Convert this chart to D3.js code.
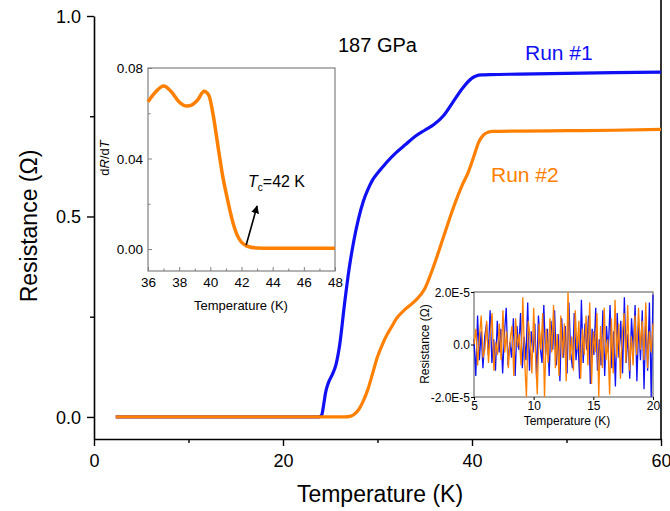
<!DOCTYPE html>
<html>
<head>
<meta charset="utf-8">
<script src="https://cdn.jsdelivr.net/npm/d3@7"></script>
<style>
  body { margin: 0; background: #fff; }
  svg { font-family: Arial, "Liberation Sans", sans-serif; }
</style>
</head>
<body>
<svg id="chart" width="670" height="511"></svg>
<script>
// main curves: temperature (K) vs resistance (ohm)
const run1T = [2.3, 10, 20, 23.8, 24.1, 24.3, 24.5, 24.8, 25.2, 25.6, 26, 26.5, 27, 27.5, 28, 28.5, 29, 29.5, 30, 30.5, 31, 32, 33, 34, 35, 36, 37, 38, 39, 40, 40.5, 41, 42, 45, 50, 55, 60];
const run1R = [0, 0, 0, 0, 0.005, 0.03, 0.06, 0.085, 0.105, 0.13, 0.18, 0.28, 0.37, 0.44, 0.495, 0.538, 0.568, 0.592, 0.608, 0.622, 0.636, 0.66, 0.68, 0.70, 0.715, 0.73, 0.752, 0.786, 0.82, 0.845, 0.851, 0.853, 0.854, 0.855, 0.857, 0.859, 0.86];
const run2T = [2.3, 10, 20, 26.5, 27.2, 27.6, 28, 28.5, 29, 29.5, 30, 30.5, 31, 31.5, 32, 33, 34, 35, 36, 37, 38, 39, 39.6, 40.2, 40.7, 41.2, 41.7, 42.2, 45, 50, 55, 60];
const run2R = [0, 0, 0, 0, 0.002, 0.008, 0.018, 0.04, 0.07, 0.11, 0.15, 0.18, 0.205, 0.225, 0.245, 0.27, 0.29, 0.32, 0.38, 0.45, 0.52, 0.58, 0.61, 0.65, 0.685, 0.703, 0.71, 0.712, 0.713, 0.714, 0.715, 0.717];

// inset 1: dR/dT of run #2
const dT = [36, 36.5, 37, 37.5, 38, 38.5, 38.8, 39.2, 39.6, 39.9, 40.2, 40.5, 40.8, 41.1, 41.4, 41.7, 42, 42.3, 42.6, 43, 44, 45, 46, 47, 48];
const dRdT = [0.0651, 0.0695, 0.0720, 0.0695, 0.0650, 0.0632, 0.0636, 0.0660, 0.0697, 0.0680, 0.0585, 0.0450, 0.0320, 0.0220, 0.0130, 0.0065, 0.0030, 0.0015, 0.0008, 0.0005, 0.0004, 0.0004, 0.0004, 0.0004, 0.0004];

// inset 2: low temperature noise, units of 1e-6 ohm, evenly sampled 5..20 K
const noise1 = [2,-12,11,-6,5,-9,3,8,-4,13,-7,2,-10,9,-3,6,-11,4,14,-8,1,-5,10,-12,7,-2,12,-9,3,-6,16,-10,5,-3,8,-13,11,-1,-7,15,-4,6,-12,9,-2,13,-8,4,-14,10,-5,7,-11,16,-3,-9,12,-6,3,-13,17,-7,8,-2,11,-15,6,-4,14,-10,2,-8,13,-12,7,-3,15,-9,5,-16,12,-5,9,-11,18,-7,4,-13,10,-2,15,-14,8,-6,13,-17,11,-10,16,-20,19];
const noise2 = [0,6,-8,3,11,-5,-2,9,-7,4,12,-10,1,-4,8,-6,13,-3,5,-9,2,7,-12,10,-1,4,-8,18,-6,-20,9,3,-11,14,-4,-19,8,-2,12,-20,6,-7,10,-3,15,-9,4,-12,11,-5,8,-14,20,-6,3,-10,13,-2,9,-13,6,-4,11,-8,16,-15,5,-3,12,-20,7,-9,14,-6,2,-19,10,-11,17,-5,8,-13,4,12,-7,15,-10,3,-8,11,-4,14,-2,9,-6,16,-9,5,-3,8];

const xTicks = [0, 20, 40, 60];
const yTicks = [0, 0.5, 1.0];

const BLUE = "#1010f5";
const ORANGE = "#ff8000";

const svg = d3.select("#chart");

// ---- main plot ----
const x = d3.scaleLinear().domain([0, 60]).range([94, 661]);
const y = d3.scaleLinear().domain([-0.055, 1.0]).range([439, 16]);

const gx = svg.append("g").attr("transform", "translate(0,439)")
    .call(d3.axisBottom(x).tickValues(xTicks).tickSize(7).tickSizeOuter(0).tickPadding(8).tickFormat(d3.format("d")));
svg.append("g").attr("transform", "translate(0,439)")
    .call(d3.axisBottom(x).tickValues([10, 30, 50]).tickSize(4).tickFormat(""))
    .select(".domain").remove();
const gy = svg.append("g").attr("transform", "translate(94,0)")
    .call(d3.axisLeft(y).tickValues(yTicks).tickSize(7).tickSizeOuter(0).tickPadding(6).tickFormat(d3.format(".1f")));
svg.append("g").attr("transform", "translate(94,0)")
    .call(d3.axisLeft(y).tickValues([0.25, 0.75]).tickSize(4).tickFormat(""))
    .select(".domain").remove();
svg.selectAll(".domain").attr("stroke-width", 1.6);
svg.selectAll(".tick line").attr("stroke-width", 1.4);
gx.selectAll("text").attr("font-size", 18).attr("fill", "#000");
gy.selectAll("text").attr("font-size", 18).attr("fill", "#000").attr("dy", "0.35em");

// right frame line
svg.append("line").attr("x1", x(60)).attr("x2", x(60)).attr("y1", 0).attr("y2", 439)
    .attr("stroke", "#000").attr("stroke-width", 1.6);

svg.append("text").attr("x", 380).attr("y", 502).attr("text-anchor", "middle")
    .attr("font-size", 23).text("Temperature (K)");
svg.append("text").attr("transform", "translate(37,226) rotate(-90)").attr("text-anchor", "middle")
    .attr("font-size", 23).text("Resistance (\u03A9)");

const line = d3.line().x(d => x(d[0])).y(d => y(d[1])).curve(d3.curveMonotoneX);
svg.append("path").datum(d3.zip(run1T, run1R)).attr("d", line)
    .attr("fill", "none").attr("stroke", BLUE).attr("stroke-width", 3.2);
svg.append("path").datum(d3.zip(run2T, run2R)).attr("d", line)
    .attr("fill", "none").attr("stroke", ORANGE).attr("stroke-width", 3.2);

svg.append("text").attr("x", 338).attr("y", 52).attr("font-size", 20).text("187 GPa");
svg.append("text").attr("x", 525).attr("y", 60).attr("font-size", 21).attr("fill", BLUE).text("Run #1");
svg.append("text").attr("x", 491).attr("y", 182).attr("font-size", 21).attr("fill", ORANGE).text("Run #2");

// ---- inset 1: dR/dT ----
const ix = d3.scaleLinear().domain([36, 48]).range([148, 335]);
const iy = d3.scaleLinear().domain([-0.0097, 0.08]).range([271, 68]);
const ins1 = svg.append("g");
ins1.append("rect").attr("x", 148).attr("y", 68).attr("width", 187).attr("height", 203)
    .attr("fill", "#fff").attr("stroke", "#808080").attr("stroke-width", 1.2);
const i1x = ins1.append("g").attr("transform", "translate(0,271)")
    .call(d3.axisBottom(ix).tickValues(d3.range(36, 49, 2)).tickSize(-4).tickPadding(6).tickFormat(d3.format("d")));
ins1.append("g").attr("transform", "translate(0,271)")
    .call(d3.axisBottom(ix).tickValues(d3.range(37, 48, 2)).tickSize(-2.5).tickFormat(""));
const i1y = ins1.append("g").attr("transform", "translate(148,0)")
    .call(d3.axisLeft(iy).tickValues([0, 0.04, 0.08]).tickSize(-4).tickPadding(5).tickFormat(d3.format(".2f")));
ins1.append("g").attr("transform", "translate(148,0)")
    .call(d3.axisLeft(iy).tickValues([0.02, 0.06]).tickSize(-2.5).tickFormat(""));
ins1.selectAll(".domain").remove();
ins1.selectAll(".tick line").attr("stroke", "#808080");
ins1.selectAll(".tick text").attr("font-size", 13.5).attr("fill", "#000");
i1y.selectAll("text").attr("dy", "0.35em");

ins1.append("path").datum(d3.zip(dT, dRdT))
    .attr("d", d3.line().x(d => ix(d[0])).y(d => iy(d[1])).curve(d3.curveMonotoneX))
    .attr("fill", "none").attr("stroke", ORANGE).attr("stroke-width", 3.5);

ins1.append("text").attr("x", 241).attr("y", 310).attr("text-anchor", "middle")
    .attr("font-size", 13).text("Temperature (K)");
const dl = ins1.append("text").attr("transform", "translate(109,158) rotate(-90)")
    .attr("text-anchor", "middle").attr("font-size", 13);
dl.append("tspan").text("d");
dl.append("tspan").attr("font-style", "italic").text("R");
dl.append("tspan").text("/d");
dl.append("tspan").attr("font-style", "italic").text("T");

// arrow to Tc
svg.append("defs").append("marker").attr("id", "arrow").attr("viewBox", "0 0 10 10")
    .attr("refX", 9).attr("refY", 5).attr("markerWidth", 5).attr("markerHeight", 5)
    .attr("orient", "auto").append("path").attr("d", "M0,0L10,5L0,10Z").attr("fill", "#000");
ins1.append("line").attr("x1", ix(42.3)).attr("y1", iy(0.0018)).attr("x2", ix(43)).attr("y2", iy(0.019))
    .attr("stroke", "#000").attr("stroke-width", 1.6).attr("marker-end", "url(#arrow)");
const tc = ins1.append("text").attr("x", 248).attr("y", 187).attr("font-size", 16);
tc.append("tspan").attr("font-style", "italic").text("T");
tc.append("tspan").attr("font-size", 10).attr("dy", 4).text("c");
tc.append("tspan").attr("dy", -4).text("=42 K");

// ---- inset 2: noise ----
const nx = d3.scaleLinear().domain([5, 20]).range([474, 653]);
const ny = d3.scaleLinear().domain([-2e-5, 2e-5]).range([397, 292]);
const ins2 = svg.append("g");
ins2.append("rect").attr("x", 474).attr("y", 292).attr("width", 179).attr("height", 105)
    .attr("fill", "#fff").attr("stroke", "#707070").attr("stroke-width", 1.2);
const nLine = d3.line().x(d => nx(d[0])).y(d => ny(d[1] * 1e-6));
const toPts = arr => arr.map((v, i) => [5 + i * 15 / (arr.length - 1), v]);
ins2.append("path").datum(toPts(noise1)).attr("d", nLine)
    .attr("fill", "none").attr("stroke", BLUE).attr("stroke-width", 1.3);
ins2.append("path").datum(toPts(noise2)).attr("d", nLine)
    .attr("fill", "none").attr("stroke", ORANGE).attr("stroke-width", 1.3);
const i2x = ins2.append("g").attr("transform", "translate(0,397)")
    .call(d3.axisBottom(nx).tickValues([5, 10, 15, 20]).tickSize(3).tickPadding(1).tickFormat(d3.format("d")));
const i2y = ins2.append("g").attr("transform", "translate(474,0)")
    .call(d3.axisLeft(ny).tickValues([-2e-5, 0, 2e-5]).tickSize(3).tickPadding(1)
        .tickFormat(d => d === 0 ? "0.0" : (d < 0 ? "-2.0E-5" : "2.0E-5")));
ins2.selectAll(".domain").remove();
ins2.selectAll(".tick text").attr("font-size", 12).attr("fill", "#000");
i2y.selectAll("text").attr("dy", "0.35em");
ins2.append("text").attr("x", 567).attr("y", 425).attr("text-anchor", "middle")
    .attr("font-size", 12).text("Temperature (K)");
ins2.append("text").attr("transform", "translate(429,344) rotate(-90)").attr("text-anchor", "middle")
    .attr("font-size", 12).text("Resistance (\u03A9)");
</script>
</body>
</html>
